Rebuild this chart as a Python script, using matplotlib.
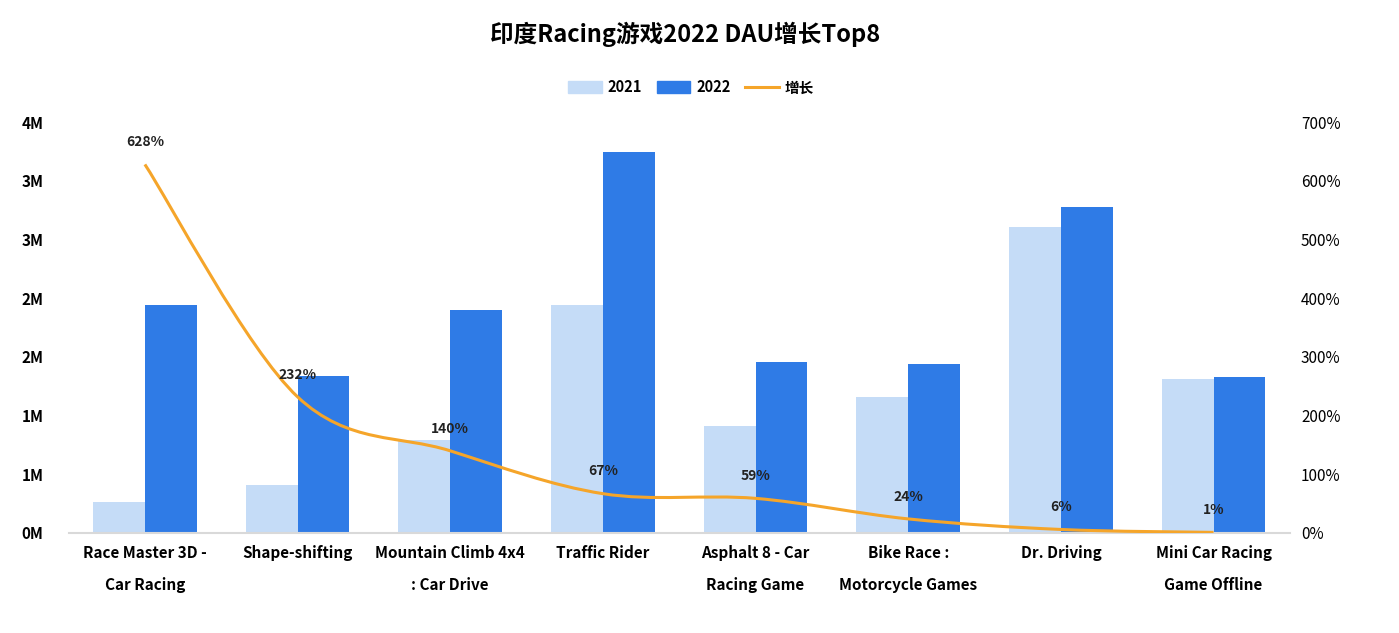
import numpy as np
import matplotlib.pyplot as plt
from matplotlib.path import Path
from matplotlib.patches import PathPatch
from matplotlib.lines import Line2D
from matplotlib.patches import Patch

plt.rcParams['font.family'] = ['Noto Sans CJK SC', 'DejaVu Sans']

categories = ['Race Master 3D -\nCar Racing', 'Shape-shifting', 'Mountain Climb 4x4\n: Car Drive',
              'Traffic Rider', 'Asphalt 8 - Car\nRacing Game', 'Bike Race :\nMotorcycle Games',
              'Dr. Driving', 'Mini Car Racing\nGame Offline']
dau_2021 = [0.26, 0.41, 0.79, 1.94, 0.91, 1.16, 2.61, 1.31]   # millions
dau_2022 = [1.94, 1.34, 1.90, 3.25, 1.46, 1.44, 2.78, 1.33]
growth = [628, 232, 140, 67, 59, 24, 6, 1]                    # percent

c2021 = '#c5dcf7'
c2022 = '#2f7be6'
cline = '#f5a52a'

fig = plt.figure(figsize=(13.99, 6.33), dpi=100)
ax = fig.add_axes([0.049, 0.158, 0.873, 0.649])
ax2 = ax.twinx()

x = np.arange(len(categories))
w = 0.34
ax.bar(x - w / 2, dau_2021, w, color=c2021, zorder=2)
ax.bar(x + w / 2, dau_2022, w, color=c2022, zorder=2)
ax.set_xlim(-0.5, len(categories) - 0.5)
ax.set_ylim(0, 3.5)
ax.set_yticks(np.arange(0, 3.51, 0.5))
ax.set_yticklabels(['0M', '1M', '1M', '2M', '2M', '3M', '3M', '4M'], fontweight='bold', fontsize=11)
ax.set_xticks(x)
ax.set_xticklabels(categories, fontsize=11, fontweight='bold', linespacing=2.2, va='top')
ax.tick_params(axis='both', length=0)
ax.tick_params(axis='x', pad=9)
ax.tick_params(axis='y', pad=18)
for s in ['top', 'right', 'left']:
    ax.spines[s].set_visible(False)
ax.spines['bottom'].set_color('#d9d9d9')
ax.spines['bottom'].set_linewidth(1.5)

# smoothed growth line (Catmull-Rom -> cubic bezier)
pts = np.column_stack([x, growth]).astype(float)
verts = [tuple(pts[0])]
codes = [Path.MOVETO]
n = len(pts)
for i in range(n - 1):
    p0 = pts[max(i - 1, 0)]
    p1 = pts[i]
    p2 = pts[i + 1]
    p3 = pts[min(i + 2, n - 1)]
    c1 = p1 + (p2 - p0) / 6
    c2 = p2 - (p3 - p1) / 6
    verts += [tuple(c1), tuple(c2), tuple(p2)]
    codes += [Path.CURVE4] * 3
ax2.add_patch(PathPatch(Path(verts, codes), fill=False, edgecolor=cline, lw=2.2, zorder=3))
ax2.set_ylim(0, 700)
ax2.set_yticks(np.arange(0, 701, 100))
ax2.set_yticklabels([f'{v}%' for v in range(0, 701, 100)], fontsize=11)
ax2.tick_params(axis='y', length=0, pad=8)
for s in ['top', 'right', 'left', 'bottom']:
    ax2.spines[s].set_visible(False)
for xi, g in zip(x, growth):
    ax2.annotate(f'{g}%', (xi, g), xytext=(0, 11), textcoords='offset points',
                 ha='center', va='bottom', fontsize=10, fontweight='bold', color='#222222')

fig.suptitle('印度Racing游戏2022 DAU增长Top8', x=0.49, y=0.965, fontsize=17, fontweight='bold')

handles = [Patch(color=c2021, label='2021'), Patch(color=c2022, label='2022'),
           Line2D([0], [0], color=cline, lw=2.2, label='增长')]
leg = fig.legend(handles=handles, loc='center', bbox_to_anchor=(0.494, 0.862), ncol=3,
                 frameon=False, fontsize=10.5, handlelength=2.3, handleheight=0.9,
                 columnspacing=1.0, handletextpad=0.4)
for t in leg.get_texts():
    t.set_fontweight('bold')

fig.savefig('out.png', dpi=100)
